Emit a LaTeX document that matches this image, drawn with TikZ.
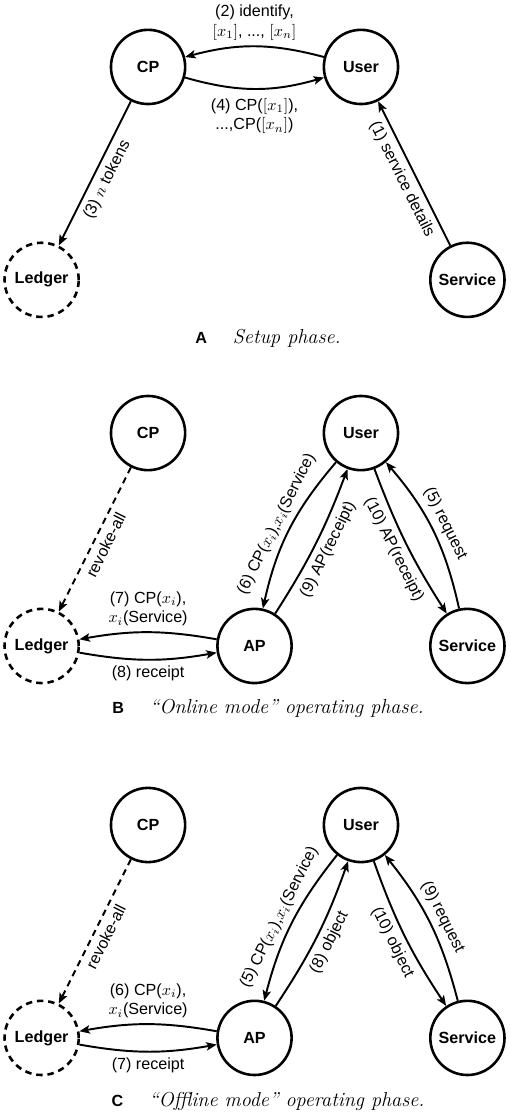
\documentclass[tikz,border=0pt]{standalone}
\usepackage{fontspec}
\setsansfont{Liberation Sans}
\usetikzlibrary{arrows.meta,positioning}

\begin{document}
\begin{tikzpicture}[node distance = 132pt]

\tikzstyle{party} = [circle, draw=black, line width=1.6pt, minimum size=46pt, inner sep=0pt, font=\sffamily\bfseries]
\tikzstyle{ledger} = [party, dash pattern=on 4pt off 3pt]
\tikzstyle{arrow} = [line width=1.2pt,->,>={Stealth[length=6.5pt,width=5.2pt,inset=1.5pt]}]
\tikzstyle{dasharrow} = [arrow, dash pattern=on 4pt off 3pt]
\tikzstyle{msg} = [font=\sffamily, align=center]
\tikzstyle{caption} = [font=\fontsize{12.5}{15}\selectfont]

\useasboundingbox (-91.8pt,41.5pt) rectangle (224.4pt,-649.8pt);

%% -----------------
%% -- SETUP PHASE --
%% -----------------

\node (cp_a) [party] {CP};
\node (user_a) [party, right of=cp_a] {User};
\node (ledger_a) [ledger, below of=cp_a, xshift=-66pt] {Ledger};
\node (service_a) [party, below of=user_a, xshift=66pt] {Service};

\draw [arrow] (service_a) -- (user_a) node[msg, pos=0.5, sloped, below] {(1) service details};
\draw [arrow] (user_a) to [bend right=15] node[msg, above] {(2) identify,\\ $[x_1]$, ..., $[x_n]$} (cp_a);
\draw [arrow] (cp_a) -- (ledger_a) node[msg, pos=0.5, sloped, below] {(3) $n$ tokens};
\draw [arrow] (cp_a) to [bend right=16] node[msg, below, yshift=-2pt] {(4) CP($[x_1]$),\\ ...,CP($[x_n]$)} (user_a);

\node (cap_a) [caption, below of=cp_a, xshift=74.4pt, yshift=-36pt] {{\fontsize{10}{12}\selectfont\sffamily\bfseries A}\hspace{16pt}\textit{Setup phase.}};

%% -----------------
%% -- ONLINE MODE --
%% -----------------

\node (cp_b) [party, below of=cp_a, yshift=-95pt] {CP};
\node (user_b) [party, right of=cp_b] {User};
\node (ledger_b) [ledger, below of=cp_b, xshift=-66pt] {Ledger};
\node (ap_b) [party, below of=cp_b, xshift=66pt] {AP};
\node (service_b) [party, below of=user_b, xshift=66pt] {Service};

\draw [dasharrow] (cp_b) -- (ledger_b) node[msg, pos=0.5, sloped, below] {revoke-all};
\draw [arrow] (service_b) to [bend right=14] node[msg, sloped, above] {(5) request} (user_b);
\draw [arrow] (user_b) to [bend right=14] node[msg, sloped, above] {(6) CP($x_i$),$x_i$(Service)} (ap_b);
\draw [arrow] (ap_b) to [bend right=10] node[msg, above] {(7) CP($x_i$),\\ $x_i$(Service)} (ledger_b);
\draw [arrow] (ledger_b) to [bend right=10] node[msg, below] {(8) receipt} (ap_b);
\draw [arrow] (ap_b) to [bend right=6] node[msg, sloped, below] {(9) AP(receipt)} (user_b);
\draw [arrow] (user_b) to [bend right=6] node[msg, sloped, below] {(10) AP(receipt)} (service_b);

\node (cap_b) [caption, below of=cp_b, xshift=74.4pt, yshift=-38.5pt] {{\fontsize{10}{12}\selectfont\sffamily\bfseries B}\hspace{16pt}\textit{``Online mode'' operating phase.}};

%% ------------------
%% -- OFFLINE MODE --
%% ------------------

\node (cp_c) [party, below of=cp_b, yshift=-111pt] {CP};
\node (user_c) [party, right of=cp_c] {User};
\node (ledger_c) [ledger, below of=cp_c, xshift=-66pt] {Ledger};
\node (ap_c) [party, below of=cp_c, xshift=66pt] {AP};
\node (service_c) [party, below of=user_c, xshift=66pt] {Service};

\draw [dasharrow] (cp_c) -- (ledger_c) node[msg, pos=0.5, sloped, below] {revoke-all};
\draw [arrow] (user_c) to [bend right=12] node[msg, sloped, above] {(5) CP($x_i$),$x_i$(Service)} (ap_c);
\draw [arrow] (ap_c) to [bend right=10] node[msg, above] {(6) CP($x_i$),\\ $x_i$(Service)} (ledger_c);
\draw [arrow] (ledger_c) to [bend right=10] node[msg, below] {(7) receipt} (ap_c);
\draw [arrow] (ap_c) to [bend right=7] node[msg, sloped, below] {(8) object} (user_c);
\draw [arrow] (service_c) to [bend right=12] node[msg, sloped, above] {(9) request} (user_c);
\draw [arrow] (user_c) to [bend right=7] node[msg, sloped, below] {(10) object} (service_c);

\node (cap_c) [caption, below of=cp_c, xshift=74.4pt, yshift=-39.7pt] {{\fontsize{10}{12}\selectfont\sffamily\bfseries C}\hspace{16pt}\textit{``Offline mode'' operating phase.}};

\end{tikzpicture}
\end{document}
